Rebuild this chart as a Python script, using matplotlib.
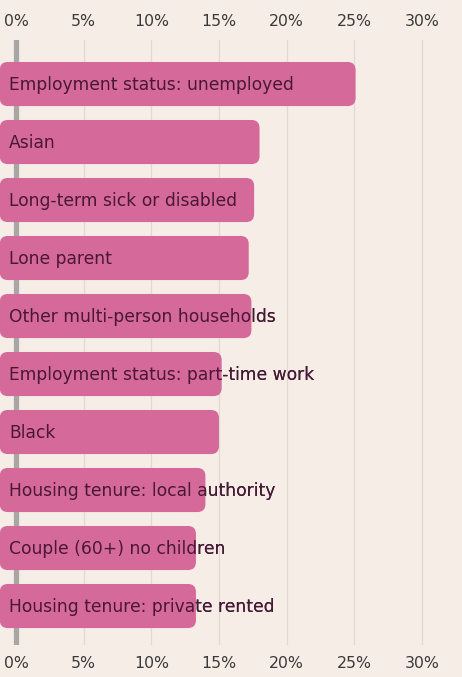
import matplotlib
matplotlib.use("Agg")
import matplotlib.pyplot as plt
from matplotlib.patches import FancyBboxPatch
import numpy as np

categories = ['Employment status: unemployed', 'Asian', 'Long-term sick or disabled',
              'Lone parent', 'Other multi-person households',
              'Employment status: part-time work', 'Black',
              'Housing tenure: local authority', 'Couple (60+) no children',
              'Housing tenure: private rented']
values = [25.1, 18.0, 17.6, 17.2, 17.4, 15.2, 15.0, 14.0, 13.3, 13.3]
ticks = [0, 5, 10, 15, 20, 25, 30]

bg = '#f7ede7'
bar_color = '#d4699a'

plt.rcParams['font.family'] = ['DejaVu Sans']

fig = plt.figure(figsize=(4.62, 6.77), dpi=100, facecolor=bg)
ax = fig.add_axes([0, 32 / 677, 1, 605 / 677])
ax.set_facecolor(bg)

x0 = -1.2
ax.set_xlim(-16 / 13.53, 446 / 13.53)
ax.set_ylim(9.672, -0.759)

# grid + zero line
for t in ticks[1:]:
    ax.axvline(t, color='#e2d9d4', lw=0.9, zorder=0)
ax.axvline(0, color='#a9a7a5', lw=3.8, zorder=1)

y = np.arange(len(categories))
bars = ax.barh(y, [v - x0 for v in values], left=x0, height=0.76, color='none')

# rounded corners, radius given in pixels
px_x = 13.53
px_y = 58.0
rad = 8 / px_x
for rect, label in zip(bars, categories):
    bx, by = rect.get_x(), rect.get_y()
    bw, bh = rect.get_width(), rect.get_height()
    patch = FancyBboxPatch((bx, by), bw, bh,
                           boxstyle='round,pad=0,rounding_size=%f' % rad,
                           mutation_aspect=px_x / px_y,
                           fc=bar_color, ec='none', zorder=3)
    ax.add_patch(patch)
    yc = by + bh / 2 + 0.015
    # label under the bar (visible outside) and a clipped copy on top
    ax.text(9 / px_x - 16 / px_x, yc, label, va='center', ha='left',
            fontsize=12.3, color='#333031', zorder=2)
    t2 = ax.text(9 / px_x - 16 / px_x, yc, label, va='center', ha='left',
                 fontsize=12.3, color='#4a1737', zorder=4)
    t2.set_clip_path(patch)

ax.set_xticks(ticks)
ax.set_xticklabels(['%d%%' % t for t in ticks])
ax.tick_params(axis='x', which='both', length=0, labelsize=11.3, labelcolor='#3a3a3a',
               top=True, labeltop=True, bottom=True, labelbottom=True, pad=8)
ax.set_yticks([])
for s in ax.spines.values():
    s.set_visible(False)

fig.savefig('out.png', dpi=100, facecolor=bg)
